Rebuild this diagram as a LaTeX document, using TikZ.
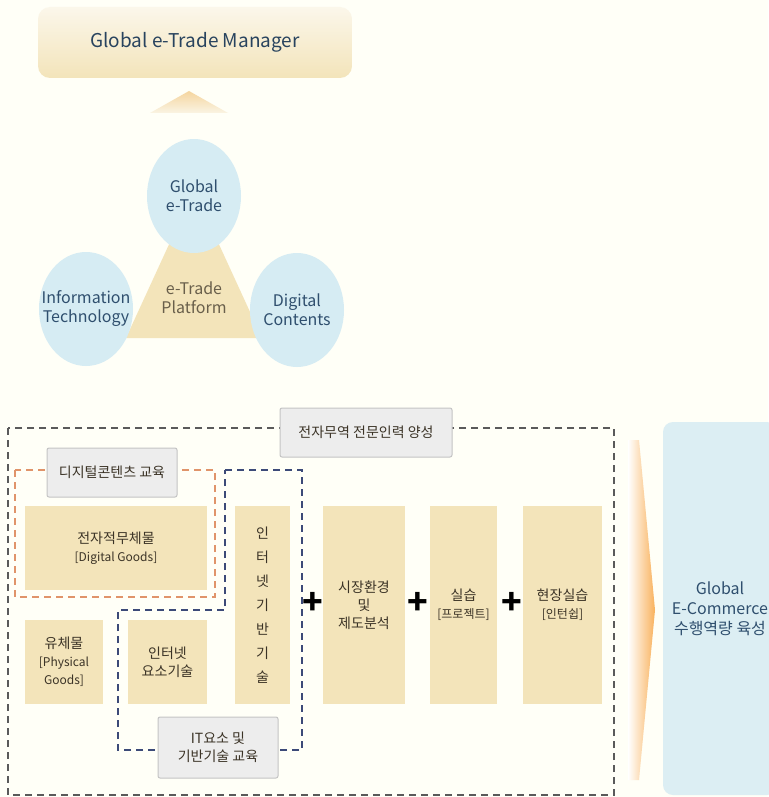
\documentclass[tikz,border=0pt]{standalone}
\usepackage{fontspec}
\setmainfont{Noto Sans CJK KR}
\usetikzlibrary{shapes.geometric}
\definecolor{boxtan}{HTML}{F3E4BA}
\definecolor{ballblue}{HTML}{D6ECF3}
\definecolor{goalblue}{HTML}{DCEEF3}
\definecolor{inkblue}{HTML}{2F4F6E}
\definecolor{inkbrown}{HTML}{3B3326}
\definecolor{tagfill}{HTML}{EDEDED}
\definecolor{tagline}{HTML}{C4C4C4}
\definecolor{dashgray}{HTML}{5A5A5A}
\definecolor{dashorange}{HTML}{E0946A}
\definecolor{dashblue}{HTML}{3C4A78}
\begin{document}
\begin{tikzpicture}[x=0.5pt, y=-0.5pt,
    ball/.style={ellipse, fill=ballblue, inner xsep=-6pt, inner ysep=0pt, minimum width=47pt, minimum height=57pt, text=inkblue, align=center, font=\fontsize{8}{9.5}\selectfont},
    goods/.style={fill=boxtan, inner sep=0pt, text=inkbrown, align=center, font=\fontsize{7}{9}\selectfont},
    tag/.style={fill=tagfill, draw=tagline, line width=0.5pt, rounded corners=1pt, inner sep=0pt, text=inkbrown, align=center, font=\fontsize{7}{9}\selectfont},
    dashline/.style={line width=0.6pt, dash pattern=on 3.5pt off 2.5pt},
    plus/.style={inner sep=0pt, text=black, font=\fontsize{17}{17}\selectfont\bfseries}]
  \fill[white!97!yellow] (0,0) rectangle (768,797);
  \useasboundingbox (0,0) rectangle (768,797);

  % upper part
  \node[rounded corners=6pt, top color=white!70!boxtan, bottom color=boxtan, minimum width=157pt, minimum height=35.5pt, text=inkblue!85!black, font=\fontsize{9.5}{11}\selectfont] (mgr) at (195,42.5) {Global e-Trade Manager};
  \shade[top color=orange!15!boxtan, bottom color=white!60!boxtan] (150,113) -- (189,91) -- (228,113) -- cycle;

  \fill[boxtan] (194,190) -- (126,338) -- (262,338) -- cycle;
  \node[ball] (trade) at (194,196) {Global\\e-Trade};
  \node[ball] (it) at (86,309) {Information\\Technology};
  \node[ball] (dc) at (297,310) {Digital\\Contents};
  \node[text=inkbrown!75!boxtan, align=center, font=\fontsize{8}{9.5}\selectfont] (platform) at (194,298) {e-Trade\\Platform};

  % lower part
  \draw[dashline, dashgray] (8,428) rectangle (614,795);
  \draw[dashline, dashorange] (15,470) rectangle (215,597);
  \draw[dashline, dashblue] (225,470) -- (302,470) -- (302,750) -- (118,750) -- (118,610) -- (225,610) -- cycle;

  \node[tag, minimum width=86pt, minimum height=24.5pt] (training) at (366,432.5) {전자무역 전문인력 양성};
  \node[tag, minimum width=65pt, minimum height=24.5pt] (dctag) at (112,472.5) {디지털콘텐츠 교육};
  \node[tag, minimum width=60pt, minimum height=30.5pt] (ittag) at (218,747.5) {IT요소 및\\기반기술 교육};

  \node[goods, minimum width=91pt, minimum height=42pt] (digital) at (116,548) {전자적무체물\\{\fontsize{6}{8}\selectfont [Digital Goods]}};
  \node[goods, minimum width=39pt, minimum height=42pt] (physical) at (64,662) {유체물\\{\fontsize{6}{8}\selectfont [Physical}\\{\fontsize{6}{8}\selectfont Goods]}};
  \node[goods, minimum width=39.5pt, minimum height=42pt] (element) at (167.5,662) {인터넷\\요소기술};
  \node[goods, minimum width=27.5pt, minimum height=99pt, font=\fontsize{7}{12}\selectfont] (base) at (262.5,605) {인\\터\\넷\\기\\반\\기\\술};
  \node[goods, minimum width=41pt, minimum height=99pt] (market) at (364,605) {시장환경\\및\\제도분석};
  \node[goods, minimum width=33.5pt, minimum height=99pt] (practice) at (463.5,605) {실습\\{\fontsize{6}{8}\selectfont [프로젝트]}};
  \node[goods, minimum width=39.5pt, minimum height=99pt] (field) at (562.5,605) {현장실습\\{\fontsize{6}{8}\selectfont [인턴쉽]}};

  \foreach \px/\name in {313/plusA, 418/plusB, 512/plusC}
    \node[plus] (\name) at (\px,603) {+};

  \shade[left color=white, right color=orange!50!boxtan] (628,440) -- (639,440) -- (655,610) -- (639,780) -- (628,780) -- cycle;
  \node[fill=goalblue, rounded corners=5pt, minimum width=57pt, minimum height=186.5pt, inner sep=0pt, text=inkblue, align=center, font=\fontsize{8}{10}\selectfont] (goal) at (720,608.5) {Global\\E-Commerce\\수행역량 육성};
\end{tikzpicture}
\end{document}
